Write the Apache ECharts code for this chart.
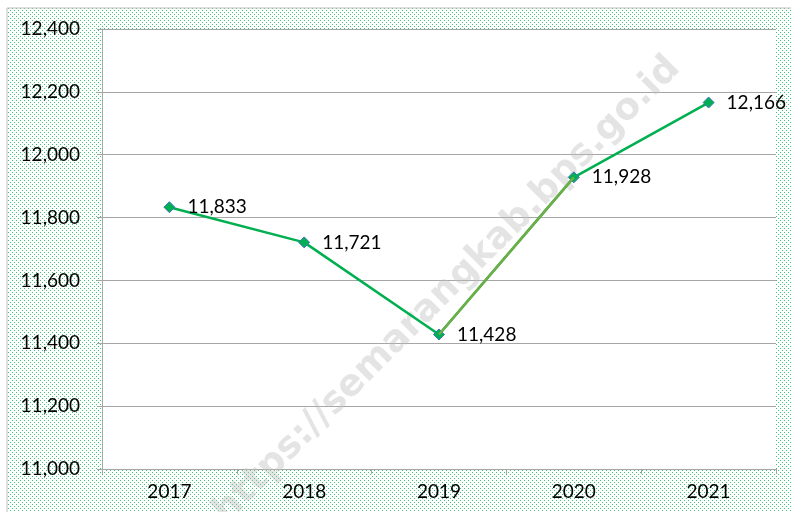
<!DOCTYPE html>
<html>
<head>
<meta charset="utf-8">
<script src="https://cdn.jsdelivr.net/npm/echarts@6/dist/echarts.min.js"></script>
<style>
  html, body { margin: 0; padding: 0; background: #fff; }
  #chart { width: 791px; height: 512px; }
</style>
</head>
<body>
<div id="chart"></div>
<script>
var years = ['2017', '2018', '2019', '2020', '2021'];
var values = [11833, 11721, 11428, 11928, 12166];
var highlightSegment = [2, 3]; // 2019 -> 2020 drawn in olive
var yMin = 11000, yMax = 12400, yStep = 200;

(function() {
  var chart = echarts.init(document.getElementById('chart'), null, { renderer: 'canvas' });

  // dotted green fill like the spreadsheet background
  var tile = document.createElement('canvas');
  tile.width = 4; tile.height = 4;
  var c = tile.getContext('2d');
  c.fillStyle = '#ffffff';
  c.fillRect(0, 0, 4, 4);
  c.fillStyle = '#3cc474';
  c.fillRect(0, 0, 1, 1);
  c.fillRect(2, 2, 1, 1);

  var overlay = values.map(function(v, i) {
    return highlightSegment.indexOf(i) >= 0 ? v : '-';
  });

  function fmt(v) { return Number(v).toLocaleString('en-US'); }

  var font = 'Lato';

  chart.setOption({
    animation: false,
    graphic: [
      {
        type: 'rect', z: -10, silent: true,
        shape: { x: 7, y: 8, width: 800, height: 520 },
        style: { fill: { image: tile, repeat: 'repeat' }, stroke: '#bfbfbf', lineWidth: 1 }
      },
      {
        type: 'text', z: 1, silent: true,
        x: 447, y: 290, rotation: Math.PI / 4,
        style: {
          text: 'https://semarangkab.bps.go.id',
          font: 'bold 37px "DejaVu Sans"',
          fill: 'rgba(190,190,190,0.42)',
          align: 'center', verticalAlign: 'middle'
        }
      }
    ],
    grid: {
      left: 102, right: 15, top: 29, bottom: 43,
      show: true, backgroundColor: '#ffffff', borderWidth: 0
    },
    xAxis: {
      type: 'category',
      data: years,
      boundaryGap: true,
      axisLine: { lineStyle: { color: '#a6a6a6', width: 1 } },
      axisTick: { show: true, length: 5, lineStyle: { color: '#a6a6a6' } },
      axisLabel: { color: '#000', fontSize: 19, fontFamily: font, margin: 13 }
    },
    yAxis: {
      type: 'value',
      min: yMin, max: yMax, interval: yStep,
      axisLine: { show: true, lineStyle: { color: '#a6a6a6', width: 1 } },
      axisTick: { show: true, length: 5, lineStyle: { color: '#a6a6a6' } },
      splitLine: { lineStyle: { color: '#a6a6a6', width: 1 } },
      axisLabel: { color: '#000', fontSize: 19, fontFamily: font, margin: 22, formatter: fmt }
    },
    series: [
      {
        type: 'line',
        data: values,
        z: 3,
        symbol: 'diamond',
        symbolSize: 11,
        lineStyle: { color: '#00b050', width: 2.5 },
        itemStyle: { color: '#00b050', borderColor: '#4472c4', borderWidth: 1 },
        label: {
          show: true, position: 'right', distance: 12,
          color: '#000', fontSize: 19, fontFamily: font,
          formatter: function(p) { return fmt(p.value); }
        }
      },
      {
        type: 'line',
        data: overlay,
        z: 4,
        symbol: 'none',
        lineStyle: { color: '#70ad47', width: 2.5 },
        silent: true
      }
    ]
  });
})();
</script>
</body>
</html>
